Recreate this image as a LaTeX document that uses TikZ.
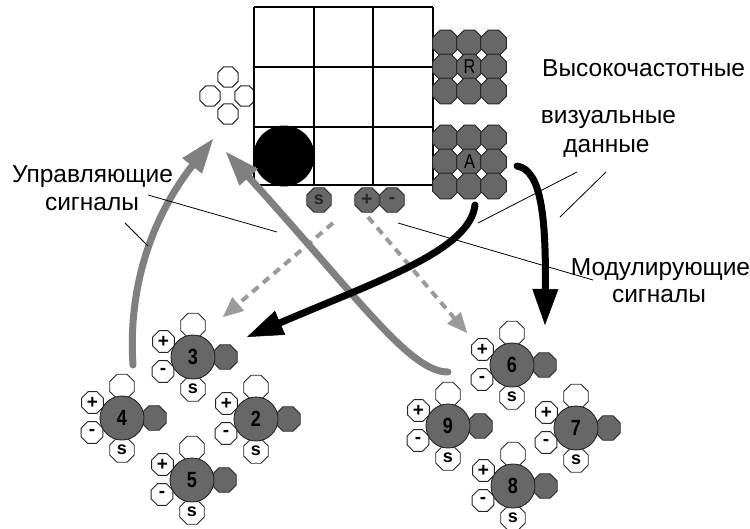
\documentclass[tikz,border=0pt]{standalone}
\usepackage{fontspec}
\setmainfont{Liberation Sans}
\newfontfamily\numfont{Liberation Sans}[FakeStretch=0.82]
\usetikzlibrary{shapes.geometric,arrows.meta}
\definecolor{cellgray}{HTML}{676767}
\definecolor{edgegray}{HTML}{262626}
\definecolor{signalgray}{HTML}{808080}
\definecolor{dashgray}{HTML}{9A9A9A}

\begin{document}
\begin{tikzpicture}[x=1pt,y=-1pt,
  oct/.style={regular polygon, regular polygon sides=8, inner sep=0pt, outer sep=0pt,
    draw=edgegray, line width=0.9pt},
  whiteoct/.style={oct, fill=white, minimum size=26.5pt},
  smalloct/.style={oct, fill=white, minimum size=23.5pt},
  tinyoct/.style={oct, fill=white, minimum size=22pt},
  grayoct/.style={oct, fill=cellgray, minimum size=26.5pt},
  gridoct/.style={oct, fill=cellgray, minimum size=28pt},
  body/.style={circle, fill=cellgray, draw=edgegray, line width=0.9pt,
    minimum size=44pt, inner sep=0pt, font=\fontsize{22}{22}\selectfont\numfont\bfseries},
  sign/.style={font=\fontsize{19}{19}\selectfont\bfseries},
  slabel/.style={font=\fontsize{18}{18}\selectfont\bfseries},
  patch/.style={font=\fontsize{20}{20}\selectfont\numfont, text=black},
  caption/.style={font=\fontsize{24.5}{28}\selectfont, anchor=base, inner sep=0pt},
  leader/.style={line width=0.8pt},
  ctrl/.style={draw=signalgray, line width=7pt, line cap=round,
    -{Triangle[length=34pt,width=25pt,line width=0.5pt]}},
  modul/.style={draw=black, line width=7pt, line cap=round,
    -{Triangle[length=36pt,width=26pt,line width=0.5pt]}},
  weak/.style={draw=dashgray, line width=4pt, dash pattern=on 8pt off 6pt,
    -{Triangle[length=20pt,width=18pt,line width=0.5pt]}},
  neuron/.pic={
    \node[whiteoct] (-top) at (0,-31.5) {};
    \node[smalloct, sign] (-plus) at (-29.5,-15.5) {+};
    \node[smalloct, sign] (-minus) at (-30,14.5) {-};
    \node[whiteoct, slabel] (-s) at (0,32) {s};
    \node[grayoct] (-out) at (32,0) {};
    \node[body] (-body) at (0,0) {#1};
  }
]
\useasboundingbox (0,0) rectangle (750,528);

% receptive cluster left of the grid
\node[tinyoct] (rc-top) at (228,77) {};
\node[tinyoct] (rc-left) at (210,96) {};
\node[tinyoct] (rc-right) at (245,96) {};
\node[tinyoct] (rc-bottom) at (228,114) {};

% 3x3 visual field with a dark spot
\fill[white] (254,7) rectangle (433,185);
\node[circle, fill=black, minimum size=61pt, inner sep=0pt] (spot) at (284,156) {};
\foreach \gx in {254,314,373,433} \draw[line width=2pt] (\gx,7) -- (\gx,185);
\foreach \gy in {7,67,127,185} \draw[line width=2pt] (254,\gy) -- (433,\gy);

% patches R and A
\foreach \i in {0,1,2} \foreach \j in {0,1,2} {
  \node[gridoct] (pr\i\j) at (445.5+24*\i,43+24*\j) {};
  \node[gridoct] (pa\i\j) at (445.5+24*\i,138+24*\j) {};
}
\node[patch] (rlab) at (pr11) {R};
\node[patch] (alab) at (pa11) {A};

% signal taps under the grid
\node[grayoct, slabel, text=edgegray] (tap-s) at (319,200) {s};
\node[grayoct, sign, text=edgegray] (tap-plus) at (367,200) {+};
\node[grayoct, sign, text=edgegray] (tap-minus) at (392,200) {-};

% neurons
\pic (n3) at (193,357) {neuron=3};
\pic (n4) at (122,418) {neuron=4};
\pic (n2) at (256,419) {neuron=2};
\pic (n5) at (192,480) {neuron=5};
\pic (n6) at (512,365) {neuron=6};
\pic (n9) at (448,426) {neuron=9};
\pic (n7) at (576,428) {neuron=7};
\pic (n8) at (513,486) {neuron=8};

% arrow end points
\coordinate (w1s) at (333,223); \coordinate (w1e) at (223,317);
\coordinate (w2s) at (368,217); \coordinate (w2e) at (467,333);
\coordinate (c1s) at (133,365); \coordinate (c1e) at (213,139);
\coordinate (c2s) at (448,372); \coordinate (c2e) at (226,152);
\coordinate (m1s) at (517,166); \coordinate (m1e) at (545,325);
\coordinate (m2s) at (475,205); \coordinate (m2e) at (247,337);

\draw[weak] (w1s) -- (w1e);
\draw[weak] (w2s) -- (w2e);
\draw[ctrl] (c1s) .. controls (128,290) and (150,220) .. (c1e);
\draw[ctrl] (c2s) .. controls (410,372) and (360,300) .. (c2e);
\draw[modul] (m1s) .. controls (542,170) and (546,220) .. (m1e);
\draw[modul] (m2s) .. controls (470,250) and (380,280) .. (m2e);

% captions
\node[caption, anchor=base west] (hf) at (542,76) {Высокочастотные};
\node[caption] (vis1) at (608.5,123) {визуальные};
\node[caption] (vis2) at (606.5,152) {данные};
\node[caption] (mod1) at (660.5,275) {Модулирующие};
\node[caption] (mod2) at (659,302) {сигналы};
\node[caption] (ctl1) at (92.5,182) {Управляющие};
\node[caption] (ctl2) at (92,210) {сигналы};

% leader lines
\coordinate (l1a) at (148,195); \coordinate (l1b) at (277,232);
\coordinate (l2a) at (125,223); \coordinate (l2b) at (148,246);
\coordinate (l3a) at (577,172); \coordinate (l3b) at (478,223);
\coordinate (l4a) at (606,172); \coordinate (l4b) at (560,217);
\coordinate (l5a) at (593,280); \coordinate (l5b) at (398,223);
\draw[leader] (l1a) -- (l1b);
\draw[leader] (l2a) -- (l2b);
\draw[leader] (l3a) -- (l3b);
\draw[leader] (l4a) -- (l4b);
\draw[leader] (l5a) -- (l5b);
\end{tikzpicture}
\end{document}
